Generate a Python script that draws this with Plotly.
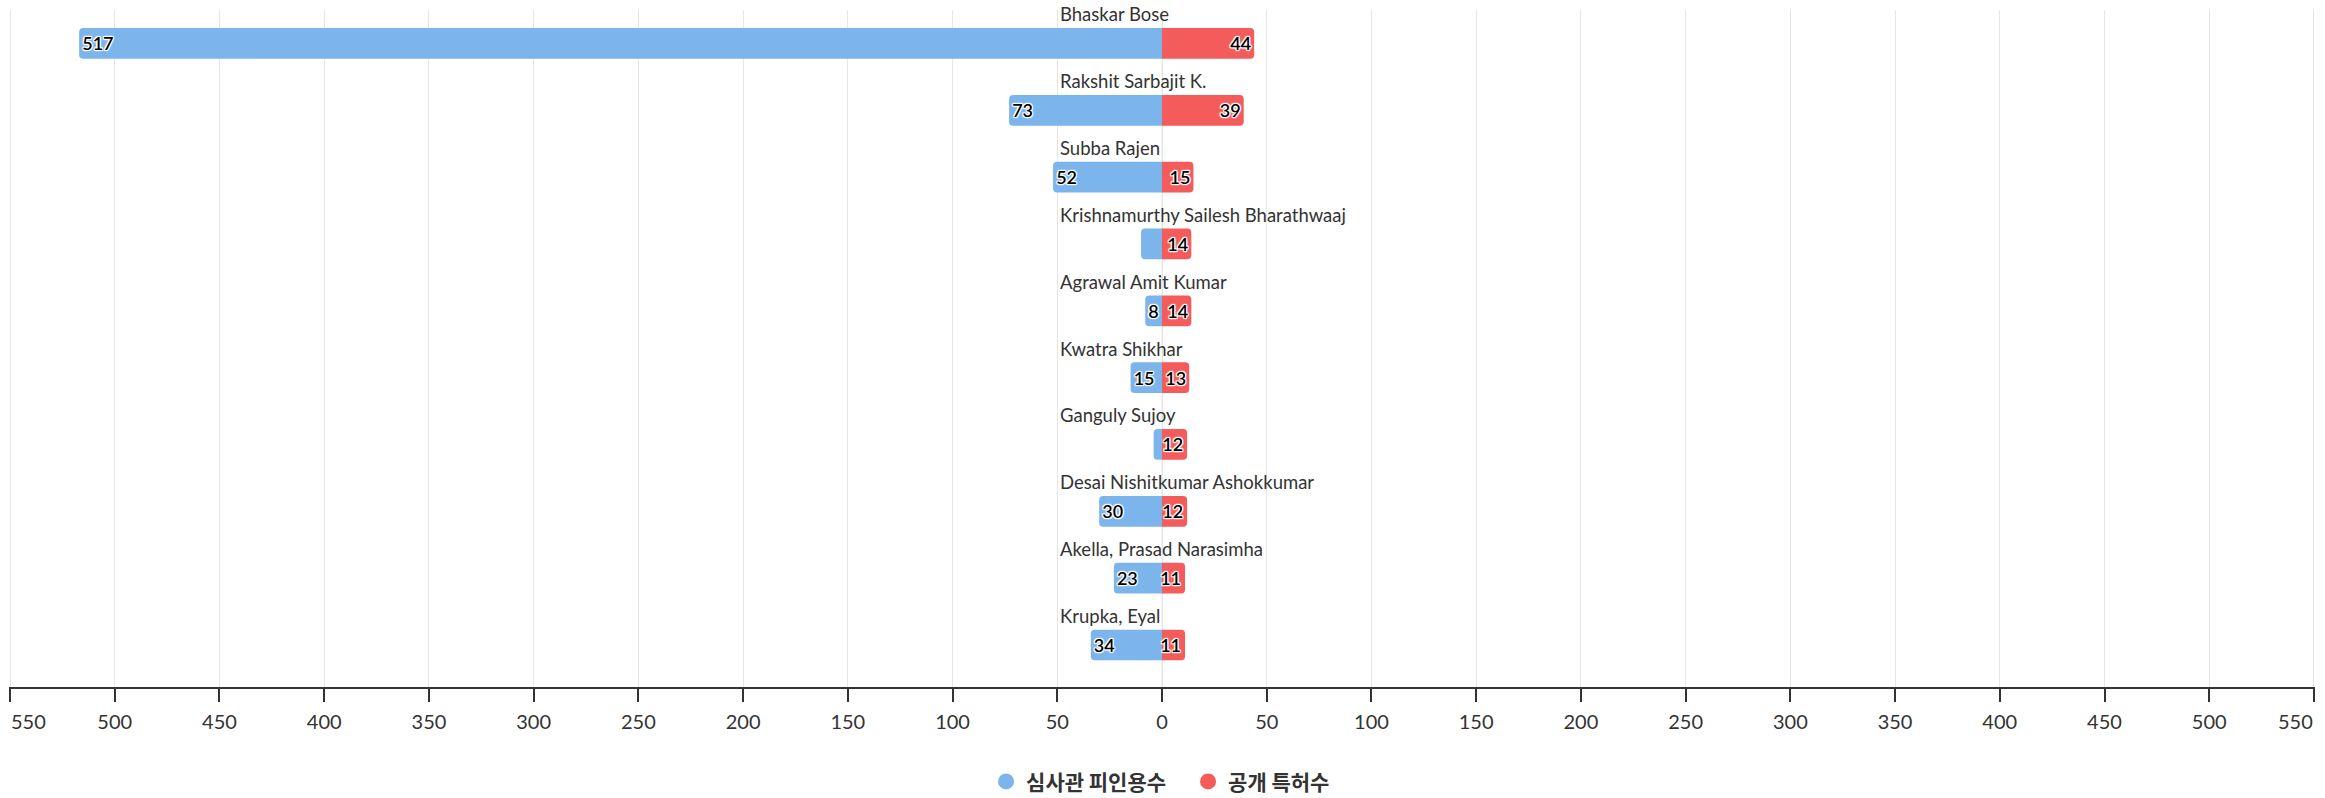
import plotly.graph_objects as go

names = ["Bhaskar Bose", "Rakshit Sarbajit K.", "Subba Rajen",
         "Krishnamurthy Sailesh Bharathwaaj", "Agrawal Amit Kumar",
         "Kwatra Shikhar", "Ganguly Sujoy", "Desai Nishitkumar Ashokkumar",
         "Akella, Prasad Narasimha", "Krupka, Eyal"]
citations = [517, 73, 52, 10, 8, 15, 4, 30, 23, 34]
patents = [44, 39, 15, 14, 14, 13, 12, 12, 11, 11]
show_cit_label = [True, True, True, False, True, True, False, True, True, True]
tick_vals = list(range(-550, 551, 50))
tick_text = [str(abs(v)) for v in tick_vals]

BLUE = "#7cb5ec"
RED = "#f45b5b"
FONT = "Lato, 'Noto Sans CJK KR', sans-serif"
outline = ("1px 1px 1px #fff, -1px -1px 1px #fff, 1px -1px 1px #fff, -1px 1px 1px #fff, "
           "0 1px 1px #fff, 0 -1px 1px #fff, 1px 0 1px #fff, -1px 0 1px #fff")

fig = go.Figure()
fig.add_trace(go.Bar(
    y=names, x=[-v for v in citations], orientation="h",
    marker=dict(color=BLUE, line=dict(width=0)),
    text=[str(v) if s else "" for v, s in zip(citations, show_cit_label)],
    textposition="inside", insidetextanchor="end", constraintext="none",
    textfont=dict(color="#000", size=18, family=FONT, weight=600, shadow=outline),
    showlegend=False, hoverinfo="skip"))
fig.add_trace(go.Bar(
    y=names, x=patents, orientation="h",
    marker=dict(color=RED, line=dict(width=0)),
    text=[str(v) for v in patents],
    textposition="inside", insidetextanchor="end", constraintext="none",
    textfont=dict(color="#000", size=18, family=FONT, weight=600, shadow=outline),
    showlegend=False, hoverinfo="skip"))
# legend entries with circle markers
fig.add_trace(go.Scatter(x=[None], y=[None], mode="markers", name="심사관 피인용수",
                         marker=dict(color=BLUE, size=18, symbol="circle")))
fig.add_trace(go.Scatter(x=[None], y=[None], mode="markers", name="공개 특허수",
                         marker=dict(color=RED, size=18, symbol="circle")))

for n in names:
    fig.add_annotation(x=0, y=n, xref="x", yref="y", text=n, showarrow=False,
                       xanchor="left", yanchor="middle", xshift=-104, yshift=29,
                       font=dict(size=18.5, color="#333", family=FONT))

# end tick labels kept inside the chart (as the reference does)
inner_text = [t if 0 < i < len(tick_text) - 1 else "" for i, t in enumerate(tick_text)]
fig.add_annotation(x=tick_vals[0], y=0, xref="x", yref="paper", text=tick_text[0],
                   showarrow=False, xanchor="left", yanchor="middle", xshift=-1, yshift=-34,
                   font=dict(size=20, color="#333", family=FONT))
fig.add_annotation(x=tick_vals[-1], y=0, xref="x", yref="paper", text=tick_text[-1],
                   showarrow=False, xanchor="right", yanchor="middle", xshift=1, yshift=-34,
                   font=dict(size=20, color="#333", family=FONT))

fig.update_layout(
    width=2325, height=798,
    margin=dict(l=9, r=10, t=10, b=111, autoexpand=False),
    paper_bgcolor="#fff", plot_bgcolor="#fff",
    barmode="relative", bargap=0.54, barcornerradius=4,
    uniformtext=dict(mode="show", minsize=18),
    font=dict(family=FONT, color="#333"),
    legend=dict(orientation="h", x=0.5113, xanchor="center", y=-0.14, yanchor="middle",
                font=dict(size=21, color="#333", family="'Noto Sans CJK KR', sans-serif",
                          weight="bold"),
                itemsizing="trace", traceorder="normal",
                entrywidth=157, entrywidthmode="pixels"),
    xaxis=dict(range=[-550.5, 550.5], tickvals=tick_vals, ticktext=inner_text,
               showgrid=True, gridcolor="#e6e6e6", gridwidth=1,
               zeroline=False, showline=True, linecolor="#333", linewidth=1.5,
               ticks="outside", ticklen=13, tickcolor="#333", tickwidth=1.5,
               ticklabelstandoff=3,
               tickfont=dict(size=20, color="#333", family=FONT)),
    yaxis=dict(categoryorder="array", categoryarray=names, autorange="reversed",
               showticklabels=False, showgrid=False, zeroline=False, showline=False),
)
fig.add_vline(x=0, line=dict(color="#e6e6e6", width=1), layer="below")

fig.write_html("out.html")
